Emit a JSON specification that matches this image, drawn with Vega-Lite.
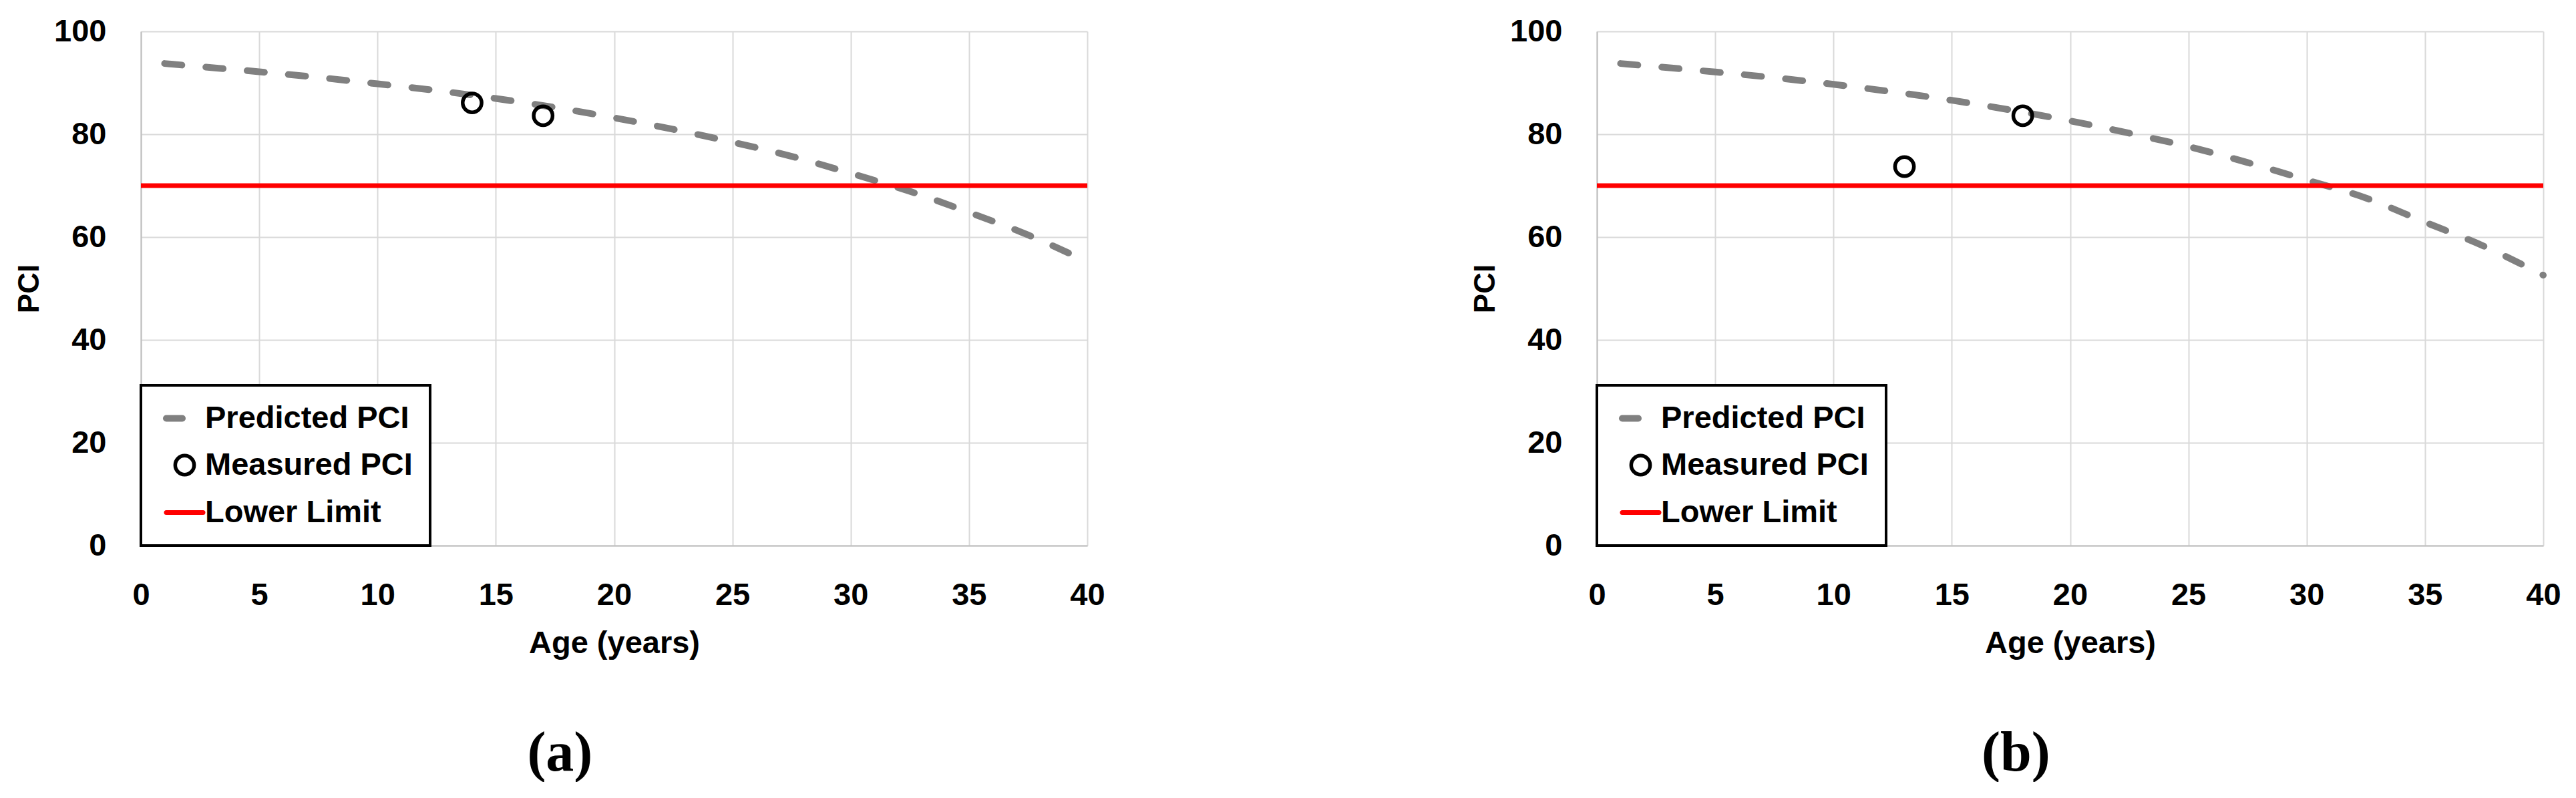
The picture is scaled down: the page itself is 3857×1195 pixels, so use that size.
{
  "$schema": "https://vega.github.io/schema/vega-lite/v6.json",
  "background": "white",
  "padding": {"left": 22, "top": 23, "right": 0, "bottom": 0},
  "autosize": {"type": "pad"},
  "datasets": {
    "a": [
      {"series": "Predicted PCI", "age": 1, "pci": 93.75},
      {"series": "Predicted PCI", "age": 2.5, "pci": 93.15},
      {"series": "Predicted PCI", "age": 5, "pci": 92.15},
      {"series": "Predicted PCI", "age": 7.5, "pci": 91.05},
      {"series": "Predicted PCI", "age": 10, "pci": 89.8},
      {"series": "Predicted PCI", "age": 12.5, "pci": 88.5},
      {"series": "Predicted PCI", "age": 15, "pci": 86.95},
      {"series": "Predicted PCI", "age": 17.5, "pci": 85.2},
      {"series": "Predicted PCI", "age": 20, "pci": 83.2},
      {"series": "Predicted PCI", "age": 22.5, "pci": 80.95},
      {"series": "Predicted PCI", "age": 25, "pci": 78.45},
      {"series": "Predicted PCI", "age": 27.5, "pci": 75.7},
      {"series": "Predicted PCI", "age": 30, "pci": 72.4},
      {"series": "Predicted PCI", "age": 32.5, "pci": 68.9},
      {"series": "Predicted PCI", "age": 35, "pci": 64.8},
      {"series": "Predicted PCI", "age": 37.5, "pci": 60.4},
      {"series": "Predicted PCI", "age": 40, "pci": 55.2},
      {"series": "Measured PCI", "age": 14, "pci": 86.1},
      {"series": "Measured PCI", "age": 17, "pci": 83.6},
      {"series": "Lower Limit", "age": 0, "pci": 70},
      {"series": "Lower Limit", "age": 40, "pci": 70}
    ],
    "b": [
      {"series": "Predicted PCI", "age": 1, "pci": 93.75},
      {"series": "Predicted PCI", "age": 2.5, "pci": 93.15},
      {"series": "Predicted PCI", "age": 5, "pci": 92.1},
      {"series": "Predicted PCI", "age": 7.5, "pci": 91.0},
      {"series": "Predicted PCI", "age": 10, "pci": 89.7},
      {"series": "Predicted PCI", "age": 12.5, "pci": 88.25},
      {"series": "Predicted PCI", "age": 15, "pci": 86.6},
      {"series": "Predicted PCI", "age": 17.5, "pci": 84.7},
      {"series": "Predicted PCI", "age": 20, "pci": 82.6},
      {"series": "Predicted PCI", "age": 22.5, "pci": 80.2},
      {"series": "Predicted PCI", "age": 25, "pci": 77.6},
      {"series": "Predicted PCI", "age": 27.5, "pci": 74.5},
      {"series": "Predicted PCI", "age": 30, "pci": 71.1},
      {"series": "Predicted PCI", "age": 32.5, "pci": 67.6},
      {"series": "Predicted PCI", "age": 35, "pci": 62.9},
      {"series": "Predicted PCI", "age": 37.5, "pci": 58.2},
      {"series": "Predicted PCI", "age": 40, "pci": 52.6},
      {"series": "Measured PCI", "age": 13, "pci": 73.7},
      {"series": "Measured PCI", "age": 18, "pci": 83.6},
      {"series": "Lower Limit", "age": 0, "pci": 70},
      {"series": "Lower Limit", "age": 40, "pci": 70}
    ]
  },
  "config": {
    "view": {"stroke": null},
    "axis": {
      "labelFont": "Liberation Sans",
      "labelFontSize": 47,
      "labelFontWeight": "bold",
      "labelColor": "#000000",
      "titleFont": "Liberation Sans",
      "titleFontSize": 47,
      "titleFontWeight": "bold",
      "titleColor": "#000000",
      "gridColor": "#d9d9d9",
      "gridWidth": 2,
      "domainColor": "#bfbfbf",
      "domainWidth": 2,
      "ticks": false,
      "tickSize": 0
    }
  },
  "spacing": 547,
  "resolve": {"scale": {"color": "independent"}, "legend": {"color": "independent"}},
  "hconcat": [
    {
      "width": 1417,
      "height": 770,
      "title": {"text": "(a)", "orient": "bottom", "frame": "bounds", "anchor": "middle", "font": "Liberation Serif", "fontSize": 84, "fontWeight": "bold", "baseline": "top", "offset": 102, "color": "#000000"},
      "data": {"name": "a"},
      "encoding": {
        "x": {"field": "age", "type": "quantitative", "scale": {"domain": [0, 40], "nice": false}, "axis": {"title": "Age (years)", "values": [0, 5, 10, 15, 20, 25, 30, 35, 40], "labelPadding": 51, "titlePadding": 26, "labelFlush": false, "labelOverlap": false}},
        "y": {"field": "pci", "type": "quantitative", "scale": {"domain": [0, 100], "nice": false}, "axis": {"title": "PCI", "values": [0, 20, 40, 60, 80, 100], "labelPadding": 52, "titlePadding": 14, "titleFontSize": 44}},
        "color": {
          "field": "series", "type": "nominal",
          "scale": {"domain": ["Predicted PCI", "Measured PCI", "Lower Limit"], "range": ["#808080", "#000000", "#ff0000"]},
          "legend": {
            "orient": "bottom-left", "offset": 0, "title": null,
            "labelFont": "Liberation Sans", "labelFontSize": 47, "labelFontWeight": "bold", "labelColor": "#000000", "labelLimit": 600,
            "symbolSize": 3025, "symbolStrokeWidth": 7, "symbolType": "stroke",
            "rowPadding": 21, "padding": 26, "labelOffset": 7, "symbolOffset": 16,
            "fillColor": "white", "strokeColor": "black",
            "encode": {
              "legend": {"update": {"strokeWidth": {"value": 4}}},
              "symbols": {"update": {
                "shape": {"signal": "datum.value === 'Measured PCI' ? 'circle' : 'stroke'"},
                "size": {"signal": "datum.value === 'Measured PCI' ? 800 : 3025"},
                "strokeWidth": {"signal": "datum.value === 'Measured PCI' ? 5.5 : (datum.value === 'Lower Limit' ? 7 : 10)"},
                "strokeDash": {"signal": "datum.value === 'Predicted PCI' ? [24, 60] : []"},
                "strokeCap": {"value": "round"},
                "stroke": {"signal": "datum.value === 'Predicted PCI' ? '#808080' : (datum.value === 'Lower Limit' ? '#ff0000' : '#000000')"},
                "fill": {"value": "transparent"},
                "opacity": {"value": 1}
              }}
            }
          }
        }
      },
      "layer": [
        {"transform": [{"filter": "datum.series === 'Predicted PCI'"}], "mark": {"type": "line", "strokeWidth": 10, "strokeDash": [26, 36], "strokeCap": "round", "interpolate": "monotone"}},
        {"transform": [{"filter": "datum.series === 'Lower Limit'"}], "mark": {"type": "line", "strokeWidth": 7}},
        {"transform": [{"filter": "datum.series === 'Measured PCI'"}], "mark": {"type": "point", "shape": "circle", "filled": false, "size": 800, "strokeWidth": 5.5, "opacity": 1}}
      ]
    },
    {
      "width": 1417,
      "height": 770,
      "title": {"text": "(b)", "orient": "bottom", "frame": "bounds", "anchor": "middle", "font": "Liberation Serif", "fontSize": 84, "fontWeight": "bold", "baseline": "top", "offset": 102, "color": "#000000"},
      "data": {"name": "b"},
      "encoding": {
        "x": {"field": "age", "type": "quantitative", "scale": {"domain": [0, 40], "nice": false}, "axis": {"title": "Age (years)", "values": [0, 5, 10, 15, 20, 25, 30, 35, 40], "labelPadding": 51, "titlePadding": 26, "labelFlush": false, "labelOverlap": false}},
        "y": {"field": "pci", "type": "quantitative", "scale": {"domain": [0, 100], "nice": false}, "axis": {"title": "PCI", "values": [0, 20, 40, 60, 80, 100], "labelPadding": 52, "titlePadding": 14, "titleFontSize": 44}},
        "color": {
          "field": "series", "type": "nominal",
          "scale": {"domain": ["Predicted PCI", "Measured PCI", "Lower Limit"], "range": ["#808080", "#000000", "#ff0000"]},
          "legend": {
            "orient": "bottom-left", "offset": 0, "title": null,
            "labelFont": "Liberation Sans", "labelFontSize": 47, "labelFontWeight": "bold", "labelColor": "#000000", "labelLimit": 600,
            "symbolSize": 3025, "symbolStrokeWidth": 7, "symbolType": "stroke",
            "rowPadding": 21, "padding": 26, "labelOffset": 7, "symbolOffset": 16,
            "fillColor": "white", "strokeColor": "black",
            "encode": {
              "legend": {"update": {"strokeWidth": {"value": 4}}},
              "symbols": {"update": {
                "shape": {"signal": "datum.value === 'Measured PCI' ? 'circle' : 'stroke'"},
                "size": {"signal": "datum.value === 'Measured PCI' ? 800 : 3025"},
                "strokeWidth": {"signal": "datum.value === 'Measured PCI' ? 5.5 : (datum.value === 'Lower Limit' ? 7 : 10)"},
                "strokeDash": {"signal": "datum.value === 'Predicted PCI' ? [24, 60] : []"},
                "strokeCap": {"value": "round"},
                "stroke": {"signal": "datum.value === 'Predicted PCI' ? '#808080' : (datum.value === 'Lower Limit' ? '#ff0000' : '#000000')"},
                "fill": {"value": "transparent"},
                "opacity": {"value": 1}
              }}
            }
          }
        }
      },
      "layer": [
        {"transform": [{"filter": "datum.series === 'Predicted PCI'"}], "mark": {"type": "line", "strokeWidth": 10, "strokeDash": [26, 36], "strokeCap": "round", "interpolate": "monotone"}},
        {"transform": [{"filter": "datum.series === 'Lower Limit'"}], "mark": {"type": "line", "strokeWidth": 7}},
        {"transform": [{"filter": "datum.series === 'Measured PCI'"}], "mark": {"type": "point", "shape": "circle", "filled": false, "size": 800, "strokeWidth": 5.5, "opacity": 1}}
      ]
    }
  ]
}
